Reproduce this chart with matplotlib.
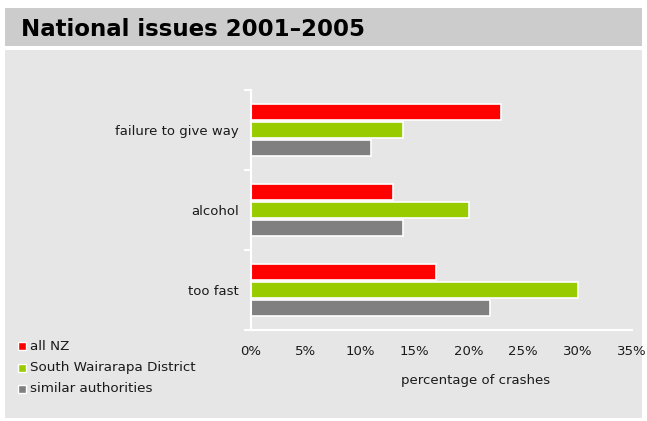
import numpy as np
from matplotlib import pyplot as plt
from matplotlib.patches import Rectangle

categories = ["failure to give way", "alcohol", "too fast"]
series_names = ["all NZ", "South Wairarapa District", "similar authorities"]
all_nz = [23, 13, 17]
south_wairarapa = [14, 20, 30]
similar_auth = [11, 14, 22]
x_ticks = [0, 5, 10, 15, 20, 25, 30, 35]

colors = ["#ff0000", "#99cc00", "#808080"]
panel_bg = "#e6e6e6"
title_bg = "#cccccc"
text_color = "#1a1a1a"

fig = plt.figure(figsize=(6.47, 4.21), dpi=100)
fig.patch.set_facecolor("white")

# title band and chart panel
fig.add_artist(Rectangle((5 / 647, 1 - 46 / 421), 637 / 647, 38 / 421,
                         transform=fig.transFigure, facecolor=title_bg,
                         edgecolor="none", zorder=0))
fig.add_artist(Rectangle((5 / 647, 1 - 418 / 421), 637 / 647, 368 / 421,
                         transform=fig.transFigure, facecolor=panel_bg,
                         edgecolor="none", zorder=0))
fig.text(21 / 647, 1 - 29 / 421, "National issues 2001\u20132005",
         fontsize=16.5, fontweight="bold", color="black",
         ha="left", va="center")

ax = fig.add_axes([251 / 647, 1 - 330 / 421, 381 / 647, 240 / 421])
ax.set_facecolor("none")

y = np.arange(len(categories))[::-1]
h = 0.21
step = 0.225
for offset, vals, col in zip([step, 0, -step],
                             [all_nz, south_wairarapa, similar_auth], colors):
    ax.barh(y + offset, vals, height=h, color=col, edgecolor="white",
            linewidth=1.2)

ax.set_xlim(0, 35)
ax.set_ylim(-0.5, 2.5)
ax.set_xticks(x_ticks)
ax.set_xticklabels([f"{t}%" for t in x_ticks], fontsize=9.5, color=text_color)
ax.tick_params(axis="x", length=0, pad=11)
ax.set_yticks(y)
ax.set_yticklabels(categories, fontsize=9.5, color=text_color)
ax.tick_params(axis="y", which="major", length=0, pad=9)
ax.set_yticks([-0.5, 0.5, 1.5, 2.5], minor=True)
ax.tick_params(axis="y", which="minor", length=5, width=1.5, color="white")

for side in ["top", "right"]:
    ax.spines[side].set_visible(False)
for side in ["left", "bottom"]:
    ax.spines[side].set_color("white")
    ax.spines[side].set_linewidth(1.5)

ax.set_xlabel("percentage of crashes", fontsize=9.5, color=text_color)
ax.xaxis.set_label_coords(0.59, -0.185)

# legend
leg_y = [346, 368, 389]
for name, col, yy in zip(series_names, colors, leg_y):
    fig.add_artist(Rectangle((18 / 647, 1 - (yy + 4) / 421), 8 / 647, 8 / 421,
                             transform=fig.transFigure, facecolor=col,
                             edgecolor="white", linewidth=1))
    fig.text(30 / 647, 1 - yy / 421, name, fontsize=9.7, color=text_color,
             ha="left", va="center")

fig.savefig("out.png", dpi=100, facecolor=fig.get_facecolor())
